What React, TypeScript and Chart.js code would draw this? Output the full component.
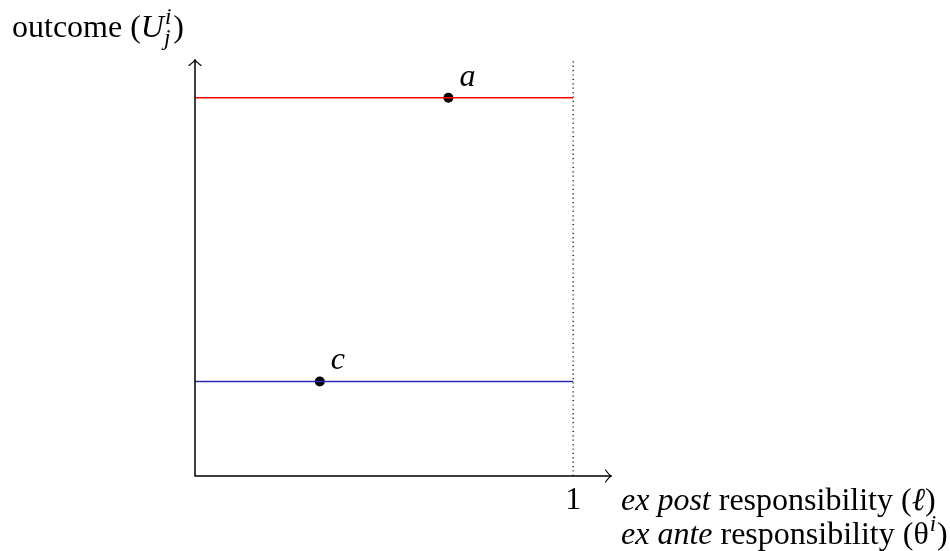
import React, { useEffect, useRef } from "react";
import { Chart, registerables } from "chart.js";

Chart.register(...registerables);

// ---- data ----
const X_MAX = 1.1;
const Y_MAX = 1.1;
const lineRed = [
  { x: 0, y: 1 },
  { x: 1, y: 1 },
];
const lineBlue = [
  { x: 0, y: 0.25 },
  { x: 1, y: 0.25 },
];
const dottedBound = [
  { x: 1, y: 0 },
  { x: 1, y: 1.1 },
];
const pointLabels = ["a", "c"];
const pointValues = [
  { x: 0.67, y: 1 },
  { x: 0.33, y: 0.25 },
];
const xTickValues = [1];
const xTickLabels = ["1"];

const FONT = '"Liberation Serif", "Times New Roman", serif';
const SIZE = 32;

type Run = { t: string; it?: boolean; scale?: number; dy?: number; dx?: number; noAdv?: boolean };

function drawRuns(ctx: CanvasRenderingContext2D, x: number, y: number, runs: Run[]) {
  let cx = x;
  for (const r of runs) {
    const s = SIZE * (r.scale ?? 1);
    ctx.font = `${r.it ? "italic " : ""}${s}px ${FONT}`;
    cx += r.dx ?? 0;
    ctx.fillText(r.t, cx, y + (r.dy ?? 0));
    if (!r.noAdv) cx += ctx.measureText(r.t).width;
  }
}

function arrowHead(ctx: CanvasRenderingContext2D, tx: number, ty: number, dir: "right" | "up") {
  ctx.beginPath();
  if (dir === "right") {
    ctx.moveTo(tx - 5.5, ty - 6);
    ctx.quadraticCurveTo(tx - 1.5, ty - 0.8, tx, ty);
    ctx.quadraticCurveTo(tx - 1.5, ty + 0.8, tx - 5.5, ty + 6);
  } else {
    ctx.moveTo(tx - 6, ty + 5.5);
    ctx.quadraticCurveTo(tx - 0.8, ty + 1.5, tx, ty);
    ctx.quadraticCurveTo(tx + 0.8, ty + 1.5, tx + 6, ty + 5.5);
  }
  ctx.stroke();
}

const overlay = {
  id: "overlay",
  afterDatasetsDraw(chart: any) {
    const ctx: CanvasRenderingContext2D = chart.ctx;
    const xs = chart.scales.x;
    const ys = chart.scales.y;
    const x0 = xs.getPixelForValue(0);
    const y0 = ys.getPixelForValue(0);
    const xEnd = xs.getPixelForValue(X_MAX);
    const yEnd = ys.getPixelForValue(Y_MAX);
    ctx.save();
    ctx.strokeStyle = "#000";
    ctx.lineWidth = 1.5;
    ctx.lineCap = "round";
    ctx.beginPath();
    ctx.moveTo(x0, y0);
    ctx.lineTo(xEnd, y0);
    ctx.moveTo(x0, y0);
    ctx.lineTo(x0, yEnd);
    ctx.stroke();
    ctx.lineWidth = 1.2;
    arrowHead(ctx, xEnd, y0, "right");
    arrowHead(ctx, x0, yEnd, "up");

    ctx.fillStyle = "#000";
    ctx.textBaseline = "alphabetic";

    // y-axis title
    ctx.textAlign = "left";
    drawRuns(ctx, 12, 37, [
      { t: "outcome (" },
      { t: "U", it: true },
      { t: "i", it: true, scale: 0.72, dy: -13, dx: 1, noAdv: true },
      { t: "j", it: true, scale: 0.72, dy: 8, dx: -1 },
      { t: ")", dx: 3 },
    ]);

    // tick labels
    ctx.textAlign = "center";
    ctx.font = `${SIZE}px ${FONT}`;
    xTickValues.forEach((v, i) => {
      ctx.fillText(xTickLabels[i], xs.getPixelForValue(v), y0 + 33);
    });

    // point labels
    ctx.textAlign = "left";
    ctx.font = `italic ${SIZE}px ${FONT}`;
    pointValues.forEach((p, i) => {
      ctx.fillText(pointLabels[i], xs.getPixelForValue(p.x) + 11, ys.getPixelForValue(p.y) - 12);
    });

    // x-axis titles
    drawRuns(ctx, 621, y0 + 34, [
      { t: "ex post", it: true },
      { t: " responsibility (" },
      { t: "\u2113", it: true },
      { t: ")" },
    ]);
    drawRuns(ctx, 621, y0 + 68, [
      { t: "ex ante", it: true },
      { t: " responsibility (\u03b8" },
      { t: "i", it: true, scale: 0.72, dy: -13, dx: 1 },
      { t: ")", dx: 1 },
    ]);
    ctx.restore();
  },
};

export default function App() {
  const ref = useRef<HTMLCanvasElement | null>(null);
  useEffect(() => {
    if (!ref.current) return;
    const chart = new Chart(ref.current, {
      type: "scatter",
      data: {
        datasets: [
          {
            data: dottedBound,
            showLine: true,
            borderColor: "#000",
            borderWidth: 1.2,
            borderDash: [1.2, 3.2],
            pointRadius: 0,
            clip: false,
          } as any,
          {
            data: lineRed,
            showLine: true,
            borderColor: "#ff0000",
            borderWidth: 1.5,
            pointRadius: 0,
            clip: false,
          },
          {
            data: lineBlue,
            showLine: true,
            borderColor: "#2a2ab0",
            borderWidth: 1.5,
            pointRadius: 0,
            clip: false,
          },
          {
            data: pointValues,
            showLine: false,
            backgroundColor: "#000",
            borderWidth: 0,
            pointRadius: 5,
            clip: false,
          },
        ],
      },
      options: {
        animation: false,
        responsive: false,
        devicePixelRatio: 1,
        layout: { padding: { left: 195, right: 339, top: 60, bottom: 75 } },
        plugins: { legend: { display: false }, tooltip: { enabled: false } },
        scales: {
          x: { type: "linear", min: 0, max: X_MAX, display: false },
          y: { type: "linear", min: 0, max: Y_MAX, display: false },
        },
      },
      plugins: [overlay],
    });
    return () => chart.destroy();
  }, []);
  return (
    <div style={{ position: "absolute", left: 0, top: 0, width: 950, height: 551, background: "#fff" }}>
      <canvas ref={ref} width={950} height={551} />
    </div>
  );
}
